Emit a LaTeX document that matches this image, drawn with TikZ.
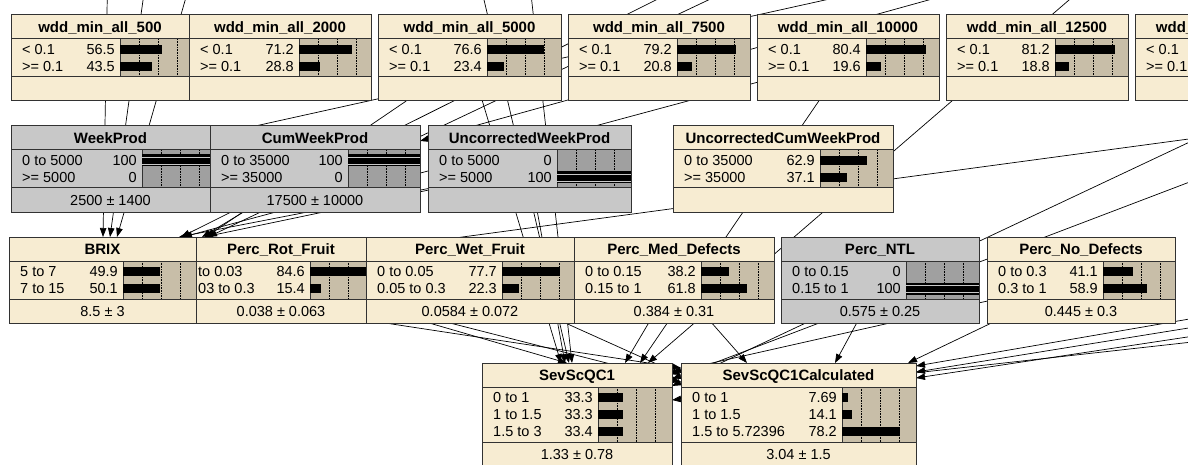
\documentclass[tikz,border=0pt]{standalone}
\usepackage{fontspec}
\setmainfont{Liberation Sans}
\usetikzlibrary{arrows.meta,calc,positioning}
\pgfdeclarelayer{paper}
\pgfdeclarelayer{links}
\pgfsetlayers{paper,links,main}
\definecolor{nbeigec}{RGB}{247,236,210}
\definecolor{ntanc}{RGB}{200,190,168}
\definecolor{ngrayc}{RGB}{200,200,200}
\definecolor{ndarkc}{RGB}{160,160,160}
\definecolor{nlinec}{RGB}{50,50,50}

% box of a network node: name, look, x, y, width, bar offset, states, title
\newcommand{\bnnode}[8]{%
  \pgfmathsetmacro\bnh{52+17*#7}
  \node[bnbox,#2,minimum width=#5,minimum height=\bnh,anchor=north west] (#1) at (#3,#4) {};
  \def\bncur{#1}\def\bnbar{#6}\def\bnwid{#5}%
  \fill[#2bar] ($(#1.north west)+(#6,24)$) rectangle ($(#1.north east)+(0,{28+17*#7})$);
  \foreach \g in {19,38,57}{%
    \ifnum\g<\numexpr#5-#6\relax
      \draw[gridline] ($(#1.north west)+(#6+\g,24)$) -- ++(0,{4+17*#7});
    \fi}
  \draw[bnline] ($(#1.north west)+(0,24)$) -- ++(#5,0);
  \draw[bnline] ($(#1.north west)+(0,{28+17*#7})$) -- ++(#5,0);
  \draw[bnline] ($(#1.north west)+(#6,24)$) -- ++(0,{4+17*#7});
  \draw[bnline] (#1.north west) rectangle (#1.south east);
  \node[bntitle] at ($(#1.north)+(0,12)$) {#8};
}
% one state row: [indent] row, label, value
\newcommand{\bnstate}[4][11]{%
  \pgfmathsetmacro\rowy{34.5+17*(#2-1)}
  \node[bntext,anchor=west] at ($(\bncur.north west)+(#1,\rowy)$) {#3};
  \ifx\relax#4\relax\else
  \node[bntext,anchor=east] at ($(\bncur.north west)+(\bnbar-5,\rowy)$) {#4};
  \ifdim#4pt>99pt
    \pgfmathsetmacro\bl{\bnwid-\bnbar-0.5}
    \fill ($(\bncur.north west)+(\bnbar,\rowy-6)$) rectangle ++(\bl,12);
    \draw[ngrayc,line width=0.6pt] ($(\bncur.north west)+(\bnbar,\rowy-3.5)$) -- ++(\bl,0);
    \draw[ngrayc,line width=0.6pt] ($(\bncur.north west)+(\bnbar,\rowy+3.5)$) -- ++(\bl,0);
  \else
    \pgfmathsetmacro\bl{min(0.74*#4,\bnwid-\bnbar-0.5)}
    \ifdim\bl pt>0pt
      \fill ($(\bncur.north west)+(\bnbar,\rowy-4.5)$) rectangle ++(\bl,9);
    \fi
  \fi
  \fi
}
\newcommand{\bnmean}[1]{\node[bntext] at ($(\bncur.south)+(0,-12)$) {#1};}

\begin{document}
\begin{tikzpicture}[x=1pt,y=-1pt,
  bnbox/.style={rectangle,draw=none,inner sep=0pt,outer sep=0pt},
  nbeige/.style={fill=nbeigec}, ngray/.style={fill=ngrayc},
  nbeigebar/.style={fill=ntanc}, ngraybar/.style={fill=ndarkc},
  bnline/.style={draw=nlinec,line width=1pt},
  gridline/.style={black,densely dotted,line width=0.6pt},
  bntext/.style={inner sep=0pt,font=\fontsize{14.5}{16}\selectfont,text height=10.3pt,text depth=0pt},
  bntitle/.style={inner sep=0pt,font=\fontsize{15}{16}\selectfont\bfseries,text height=10.8pt,text depth=0pt},
  link/.style={-{Triangle[length=9pt,width=6.5pt]},line width=0.7pt}]
\useasboundingbox (0,0) rectangle (1188,465);
\clip (0,0) rectangle (1188,465);
\begin{pgfonlayer}{paper}
\fill[white] (0,0) rectangle (1188,465);
\end{pgfonlayer}

\bnnode{w500}{nbeige}{11}{15}{178}{109}{2}{wdd\_min\_all\_500}
\bnstate{1}{< 0.1}{56.5}
\bnstate{2}{>= 0.1}{43.5}
\bnnode{w2000}{nbeige}{189}{15}{182}{110}{2}{wdd\_min\_all\_2000}
\bnstate{1}{< 0.1}{71.2}
\bnstate{2}{>= 0.1}{28.8}
\bnnode{w5000}{nbeige}{378}{15}{183}{109}{2}{wdd\_min\_all\_5000}
\bnstate{1}{< 0.1}{76.6}
\bnstate{2}{>= 0.1}{23.4}
\bnnode{w7500}{nbeige}{568}{15}{182}{109}{2}{wdd\_min\_all\_7500}
\bnstate{1}{< 0.1}{79.2}
\bnstate{2}{>= 0.1}{20.8}
\bnnode{w10000}{nbeige}{757}{15}{182}{109}{2}{wdd\_min\_all\_10000}
\bnstate{1}{< 0.1}{80.4}
\bnstate{2}{>= 0.1}{19.6}
\bnnode{w12500}{nbeige}{946}{15}{182}{109}{2}{wdd\_min\_all\_12500}
\bnstate{1}{< 0.1}{81.2}
\bnstate{2}{>= 0.1}{18.8}
\bnnode{w15000}{nbeige}{1135}{15}{182}{109}{2}{wdd\_min\_all\_15000}
\bnstate{1}{< 0.1}{}
\bnstate{2}{>= 0.1}{}

\bnnode{weekprod}{ngray}{11}{126}{199}{131}{2}{WeekProd}
\bnstate{1}{0 to 5000}{100}
\bnstate{2}{>= 5000}{0}
\bnmean{2500 ± 1400}
\bnnode{cumweekprod}{ngray}{210}{126}{210}{138}{2}{CumWeekProd}
\bnstate{1}{0 to 35000}{100}
\bnstate{2}{>= 35000}{0}
\bnmean{17500 ± 10000}
\bnnode{uncweekprod}{ngray}{428}{126}{203}{129}{2}{UncorrectedWeekProd}
\bnstate{1}{0 to 5000}{0}
\bnstate{2}{>= 5000}{100}
\bnnode{unccumweekprod}{nbeige}{673}{126}{220}{147}{2}{UncorrectedCumWeekProd}
\bnstate{1}{0 to 35000}{62.9}
\bnstate{2}{>= 35000}{37.1}

\bnnode{brix}{nbeige}{9}{237}{187}{114}{2}{BRIX}
\bnstate{1}{5 to 7}{49.9}
\bnstate{2}{7 to 15}{50.1}
\bnmean{8.5 ± 3}
\bnnode{rotfruit}{nbeige}{196}{237}{170}{114}{2}{Perc\_Rot\_Fruit}
\bnstate[2]{1}{to 0.03}{84.6}
\bnstate[2]{2}{03 to 0.3}{15.4}
\bnmean{0.038 ± 0.063}
\bnnode{wetfruit}{nbeige}{366}{237}{208}{136}{2}{Perc\_Wet\_Fruit}
\bnstate{1}{0 to 0.05}{77.7}
\bnstate{2}{0.05 to 0.3}{22.3}
\bnmean{0.0584 ± 0.072}
\bnnode{meddef}{nbeige}{574}{237}{200}{127}{2}{Perc\_Med\_Defects}
\bnstate{1}{0 to 0.15}{38.2}
\bnstate{2}{0.15 to 1}{61.8}
\bnmean{0.384 ± 0.31}
\bnnode{ntl}{ngray}{781}{237}{198}{125}{2}{Perc\_NTL}
\bnstate{1}{0 to 0.15}{0}
\bnstate{2}{0.15 to 1}{100}
\bnmean{0.575 ± 0.25}
\bnnode{nodef}{nbeige}{987}{237}{188}{116}{2}{Perc\_No\_Defects}
\bnstate{1}{0 to 0.3}{41.1}
\bnstate{2}{0.3 to 1}{58.9}
\bnmean{0.445 ± 0.3}

\bnnode{sev}{nbeige}{482}{363}{190}{116}{3}{SevScQC1}
\bnstate{1}{0 to 1}{33.3}
\bnstate{2}{1 to 1.5}{33.3}
\bnstate{3}{1.5 to 3}{33.4}
\bnmean{1.33 ± 0.78}
\bnnode{sevcalc}{nbeige}{681}{363}{235}{161}{3}{SevScQC1Calculated}
\bnstate{1}{0 to 1}{7.69}
\bnstate{2}{1 to 1.5}{14.1}
\bnstate{3}{1.5 to 5.72396}{78.2}
\bnmean{3.04 ± 1.5}

\coordinate (oa1) at (109,-100);
\coordinate (oa2) at (157,-100);
\coordinate (oa3) at (214,-100);
\coordinate (ob2) at (686,-15);
\coordinate (ob6) at (740,-15);
\coordinate (oc1) at (1300,-105);
\coordinate (oc3) at (1300,-103);
\coordinate (oe1) at (1300,124);
\coordinate (od3) at (470,-60);
\coordinate (od4) at (525,-60);
\coordinate (og1) at (1127,-50);
\coordinate (oe2) at (1300,90);
\coordinate (oe3) at (1300,140);
\coordinate (oe4) at (1300,330);
\coordinate (of7) at (1300,300);
\coordinate (of8) at (1300,310);
\coordinate (of9) at (1300,320);

\begin{pgfonlayer}{links}
\clip (0,0) rectangle (1188,465);
\draw[link] (oa1) -- ($(brix.north west)+(94,0)$);
\draw[link] (oa2) -- ($(brix.north west)+(101,0)$);
\draw[link] (oa3) -- ($(brix.north west)+(108,0)$);
\draw[link] (uncweekprod) -- ($(brix.north west)+(170,0)$);
\draw[link] (ob2) -- ($(brix.north west)+(172,0)$);
\draw[link] (w10000) -- ($(brix.north west)+(174,0)$);
\draw[link] (cumweekprod) -- ($(rotfruit.north west)+(6,0)$);
\draw[link] (uncweekprod) -- ($(rotfruit.north west)+(8,0)$);
\draw[link] (w5000) -- ($(rotfruit.north west)+(10,0)$);
\draw[link] (ob6) -- ($(rotfruit.north west)+(12,0)$);
\draw[link] (oc1) -- ($(weekprod.north east)+(0,10)$);
\draw[link] (oc3) -- ($(cumweekprod.north east)+(0,15)$);
\draw[link] (oe1) -- ($(rotfruit.north east)+(0,13)$);
\draw[link] (uncweekprod) -- ($(sev.north west)+(83,0)$);
\draw[link] (w5000) -- ($(sev.north west)+(79,0)$);
\draw[link] (od3) -- ($(sev.north west)+(87,0)$);
\draw[link] (od4) -- ($(sev.north west)+(90,0)$);
\draw[link] (rotfruit) -- ($(sev.north west)+(85,0)$);
\draw[link] (meddef) -- ($(sev.north west)+(143,0)$);
\draw[link] (w10000) -- ($(sev.north west)+(158,0)$);
\draw[link] (og1) -- ($(sev.north west)+(166,0)$);
\draw[link] (oe2) -- ($(sev.north east)+(0,23)$);
\draw[link] (oe3) -- ($(sev.north east)+(0,16)$);
\draw[link] (nodef) -- ($(sev.north east)+(0,9)$);
\draw[link] (oe4) -- ($(sev.north east)+(0,37)$);
\draw[link] (brix) -- ($(sevcalc.north west)+(0,5)$);
\draw[link] (wetfruit) -- ($(sevcalc.north west)+(0,12)$);
\draw[link] (rotfruit) -- ($(sevcalc.north west)+(0,19)$);
\draw[link] (meddef) -- ($(sevcalc.north west)+(66,0)$);
\draw[link] (ntl) -- ($(sevcalc.north west)+(154,0)$);
\draw[link] (nodef) -- ($(sevcalc.north west)+(227,0)$);
\draw[link] (of7) -- ($(sevcalc.north east)+(0,3)$);
\draw[link] (of8) -- ($(sevcalc.north east)+(0,9)$);
\draw[link] (of9) -- ($(sevcalc.north east)+(0,15)$);
\end{pgfonlayer}
\end{tikzpicture}
\end{document}
